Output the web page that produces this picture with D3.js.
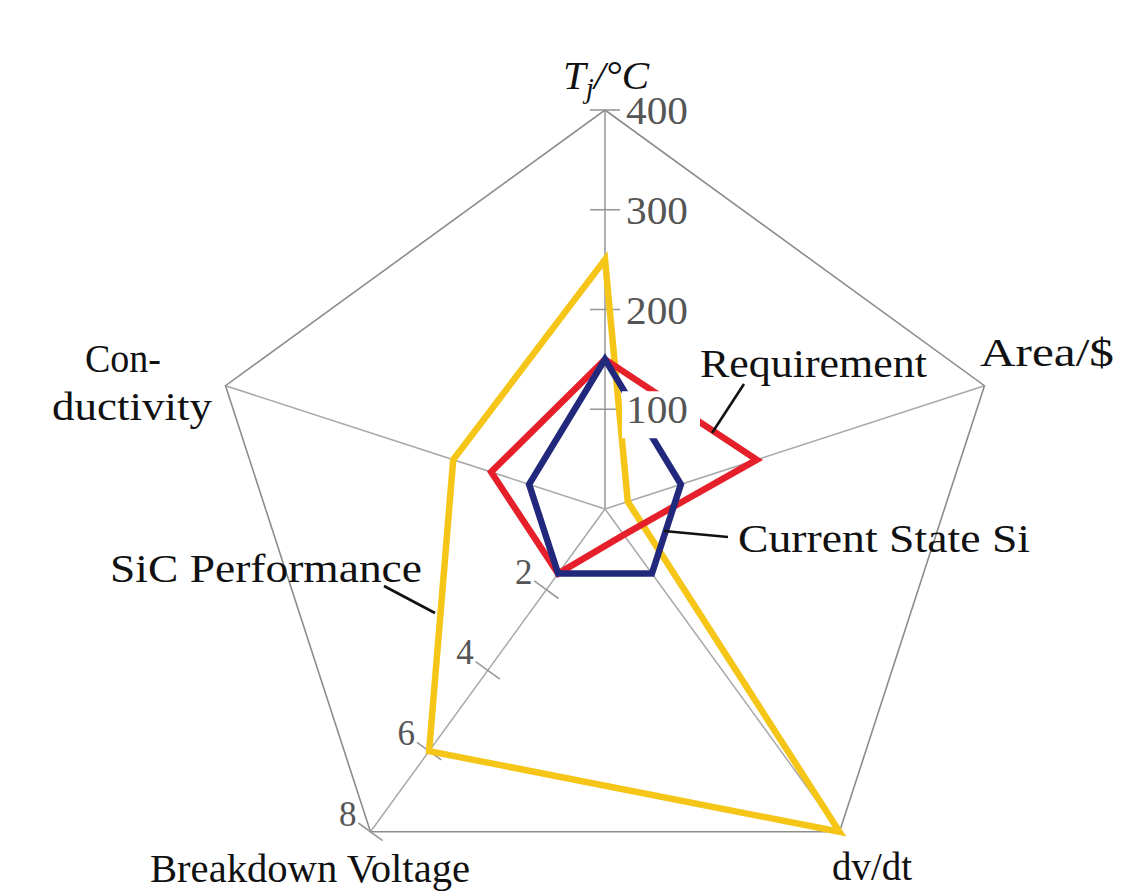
<!DOCTYPE html>
<html>
<head>
<meta charset="utf-8">
<script src="https://cdn.jsdelivr.net/npm/d3@7"></script>
<style>
  html, body { margin: 0; padding: 0; background: #fff; }
  svg { display: block; }
  text { font-family: "Liberation Serif", "Times New Roman", serif; }
</style>
</head>
<body>
<svg id="chart" width="1125" height="895"></svg>
<script>
// ---- data ----
const axisNames = ["Tj", "Area/$", "dv/dt", "Breakdown Voltage", "Conductivity"];
const axisMax = [400, 1, 1, 8, 1];
const sicPerformance = [250, 0.06, 1.0, 6.0, 0.40];
const requirement = [150, 0.40, 0.08, 1.6, 0.30];
const currentStateSi = [150, 0.20, 0.20, 1.6, 0.20];
const tjTicks = [100, 200, 300, 400];
const bvTicks = [2, 4, 6, 8];

// ---- layout ----
const cx = 605, cy = 509, R = 399;
const svg = d3.select("#chart");
const g = svg.append("g").attr("transform", `translate(${cx},${cy})`);

const scales = axisMax.map(m => d3.scaleLinear().domain([0, m]).range([0, R]));
const angle = i => (-90 + 72 * i) * Math.PI / 180;
const pt = (i, v) => {
  const r = scales[i](v);
  return [r * Math.cos(angle(i)), r * Math.sin(angle(i))];
};

// spokes
axisNames.forEach((a, i) => {
  const [x, y] = pt(i, axisMax[i]);
  g.append("line").attr("x1", 0).attr("y1", 0).attr("x2", x).attr("y2", y)
    .attr("stroke", i === 0 ? "#b0b0b0" : "#a8a8a8")
    .attr("stroke-width", i === 0 ? 2 : 1.5);
});
// outer pentagon
const line = d3.line().curve(d3.curveLinearClosed);
g.append("path")
  .attr("d", line(axisNames.map((a, i) => pt(i, axisMax[i]))))
  .attr("fill", "none").attr("stroke", "#8c8c8c").attr("stroke-width", 1.6);

// Tj ticks (horizontal)
tjTicks.forEach(t => {
  const [x, y] = pt(0, t);
  g.append("line").attr("x1", x - 15).attr("x2", x + 15).attr("y1", y).attr("y2", y)
    .attr("stroke", "#999").attr("stroke-width", 1.6);
});
// breakdown ticks (perpendicular)
const a3 = angle(3);
const px = -Math.sin(a3), py = Math.cos(a3);
bvTicks.forEach(t => {
  const [x, y] = pt(3, t);
  g.append("line").attr("x1", x - 15 * px).attr("y1", y - 15 * py)
    .attr("x2", x + 15 * px).attr("y2", y + 15 * py)
    .attr("stroke", "#999").attr("stroke-width", 1.6);
});

// series
const series = [
  { name: "SiC Performance", values: sicPerformance, color: "#F5C518" },
  { name: "Requirement", values: requirement, color: "#E5202A" },
  { name: "Current State Si", values: currentStateSi, color: "#22297C" }
];
series.forEach(s => {
  g.append("path")
    .attr("d", line(s.values.map((v, i) => pt(i, v))))
    .attr("fill", "none").attr("stroke", s.color)
    .attr("stroke-width", 6.5).attr("stroke-linejoin", "miter");
});

// Tj tick labels (with white background on 100)
tjTicks.forEach(t => {
  const [x, y] = pt(0, t);
  if (t === 100) {
    g.append("rect").attr("x", x + 17).attr("y", y - 18).attr("width", 78).attr("height", 47)
      .attr("fill", "#fff");
  }
  g.append("text").attr("x", x + 21).attr("y", y + 14)
    .attr("font-size", 39).attr("fill", "#555")
    .attr("textLength", 62).attr("lengthAdjust", "spacingAndGlyphs").text(t);
});
// breakdown tick labels
bvTicks.forEach(t => {
  const [x, y] = pt(3, t);
  g.append("text").attr("x", x - 14).attr("y", y - 6)
    .attr("text-anchor", "end")
    .attr("font-size", 35).attr("fill", "#555").text(t);
});

// axis titles
const title = svg.append("text").attr("x", 563).attr("y", 89)
  .attr("font-size", 41).attr("font-style", "italic").attr("fill", "#111");
title.append("tspan").text("T");
title.append("tspan").attr("font-size", 29).attr("dy", 9).text("j");
title.append("tspan").attr("dy", -9).text("/°C");

const lab = (txt, x, y, w) => svg.append("text").attr("x", x).attr("y", y)
  .attr("font-size", 40).attr("fill", "#111")
  .attr("textLength", w).attr("lengthAdjust", "spacingAndGlyphs").text(txt);
lab("Area/$", 980, 366, 134);
lab("Con-", 85, 372, 76);
lab("ductivity", 52, 420, 160);
lab("Breakdown Voltage", 150, 882, 320);
lab("dv/dt", 832, 880, 80);
lab("Requirement", 700, 377, 227);
lab("Current State Si", 738, 552, 292);
lab("SiC Performance", 110, 582, 312);

// leader lines
const leader = (x1, y1, x2, y2) => svg.append("line")
  .attr("x1", x1).attr("y1", y1).attr("x2", x2).attr("y2", y2)
  .attr("stroke", "#111").attr("stroke-width", 2.6);
leader(744, 384, 712, 433);
leader(664, 531, 728, 537);
leader(384, 586, 435, 613);
</script>
</body>
</html>
